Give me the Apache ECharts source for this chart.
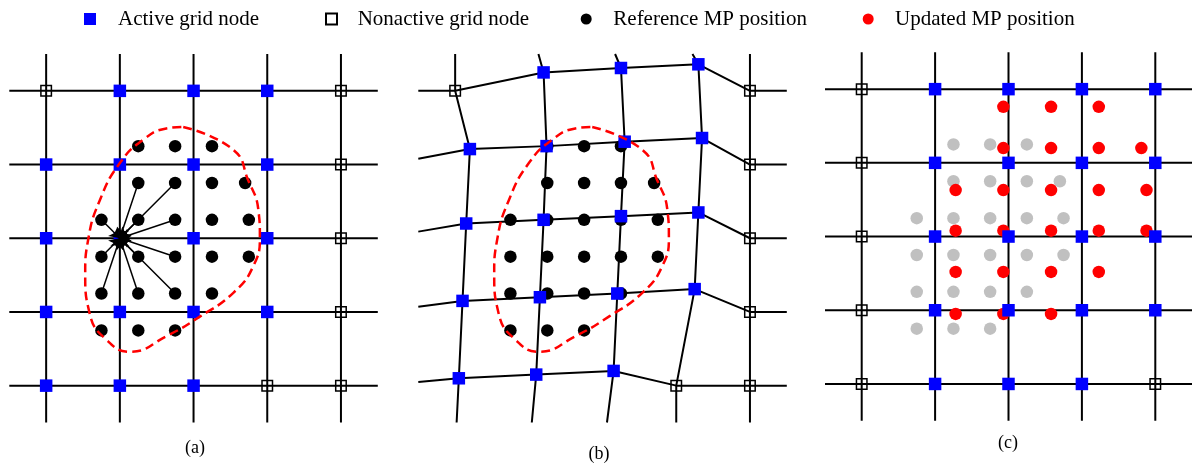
<!DOCTYPE html>
<html><head><meta charset="utf-8">
<script src="https://cdn.jsdelivr.net/npm/echarts@6/dist/echarts.min.js"></script>
<style>html,body{margin:0;padding:0;background:#fff}#c{width:1192px;height:466px}</style>
</head><body><div id="c"></div>
<script>
// ---------- data (grid units: node columns/rows 0..4, rows counted downward) ----------
const gridIndex = [0, 1, 2, 3, 4];
const lineExtent = [-0.5, 4.5];

// 1 = active grid node, 0 = nonactive grid node (rows top->bottom, cols left->right)
const activeA = [[0,1,1,1,0],[1,1,1,1,0],[1,1,1,1,0],[1,1,1,1,0],[1,1,1,0,0]];
const activeB = [[0,1,1,1,0],[1,1,1,1,0],[1,1,1,1,0],[1,1,1,1,0],[1,1,1,0,0]];
const activeC = [[0,1,1,1,1],[0,1,1,1,1],[0,1,1,1,1],[0,1,1,1,1],[0,1,1,1,0]];

// deformed grid node positions in (b): [x, y] per row
const nodesB = [
  [[0,0],[1.20,-0.25],[2.25,-0.31],[3.30,-0.36],[4,0]],
  [[0.20,0.79],[1.24,0.75],[2.30,0.69],[3.35,0.64],[4,1]],
  [[0.15,1.80],[1.20,1.75],[2.25,1.70],[3.30,1.65],[4,2]],
  [[0.10,2.85],[1.15,2.80],[2.20,2.75],[3.25,2.69],[4,3]],
  [[0.05,3.90],[1.10,3.85],[2.15,3.80],[3,4],[4,4]]
];
const rowLeftB  = [[-0.5,0],[-0.5,0.92],[-0.5,1.91],[-0.5,2.93],[-0.5,3.95]];
const rowRightB = [[4.5,0],[4.5,1],[4.5,2],[4.5,3],[4.5,4]];
const colTopB    = [[0,-0.5],[1.13,-0.5],[2.17,-0.5],[3.22,-0.5],[4,-0.5]];
const colBottomB = [[0.02,4.5],[1.04,4.5],[2.06,4.5],[3,4.5],[4,4.5]];

// reference material point positions
const refMP = [
  [1.25,0.75],[1.75,0.75],[2.25,0.75],
  [1.25,1.25],[1.75,1.25],[2.25,1.25],[2.70,1.25],
  [0.75,1.75],[1.25,1.75],[1.75,1.75],[2.25,1.75],[2.75,1.75],
  [0.75,2.25],[1.25,2.25],[1.75,2.25],[2.25,2.25],[2.75,2.25],
  [0.75,2.75],[1.25,2.75],[1.75,2.75],[2.25,2.75],
  [0.75,3.25],[1.25,3.25],[1.75,3.25]
];
// updated material point positions (c)
const updatedMP = [
  [1.93,0.24],[2.58,0.24],[3.23,0.24],
  [1.93,0.80],[2.58,0.80],[3.23,0.80],[3.81,0.80],
  [1.28,1.37],[1.93,1.37],[2.58,1.37],[3.23,1.37],[3.88,1.37],
  [1.28,1.92],[1.93,1.92],[2.58,1.92],[3.23,1.92],[3.88,1.92],
  [1.28,2.48],[1.93,2.48],[2.58,2.48],[3.23,2.48],
  [1.28,3.05],[1.93,3.05],[2.58,3.05]
];
// node receiving the mapping arrows in (a)
const targetNode = [1, 2];
// dashed domain boundary
const domainOutline = [
  [1.86,0.49],[2.54,0.80],[2.74,1.21],[2.88,1.62],[2.90,1.98],[2.81,2.38],
  [2.54,2.74],[2.09,3.06],[1.63,3.33],[1.14,3.54],[0.82,3.38],[0.59,3.02],
  [0.53,2.48],[0.57,2.02],[0.73,1.48],[1.00,0.98],[1.32,0.66],[1.63,0.51],[1.86,0.49]
];
const legendNames = ['Active grid node', 'Nonactive grid node', 'Reference MP position', 'Updated MP position'];
const captions = ['(a)', '(b)', '(c)'];

// ---------- build ----------
const FONT = 'Liberation Serif';
const panels = [{left: 9.3, top: 54}, {left: 418.3, top: 54}, {left: 825, top: 52.3}];
const SIZE = 368.5;

const grids = panels.map(p => ({left: p.left, top: p.top, width: SIZE, height: SIZE, containLabel: false}));
const xAxes = panels.map((p, i) => ({type: 'value', gridIndex: i, min: lineExtent[0], max: lineExtent[1], show: false}));
const yAxes = panels.map((p, i) => ({type: 'value', gridIndex: i, min: lineExtent[0], max: lineExtent[1], inverse: true, show: false}));

const series = [];
function addLine(panel, pts, z) {
  series.push({type: 'line', xAxisIndex: panel, yAxisIndex: panel, data: pts, symbol: 'none',
    lineStyle: {color: '#000', width: 2}, silent: true, clip: false, z: z || 1, animation: false});
}
function regularGrid(panel) {
  gridIndex.forEach(k => {
    addLine(panel, [[lineExtent[0], k], [lineExtent[1], k]]);
    addLine(panel, [[k, lineExtent[0]], [k, lineExtent[1]]]);
  });
}
function nodeSeries(panel, states, posFn) {
  const act = [], non = [];
  states.forEach((row, r) => row.forEach((s, c) => (s ? act : non).push(posFn(r, c))));
  series.push({type: 'scatter', name: legendNames[0], xAxisIndex: panel, yAxisIndex: panel, data: act,
    symbol: 'rect', symbolSize: 12.5, itemStyle: {color: '#0000ff', opacity: 1}, z: 4, clip: false, animation: false});
  series.push({type: 'scatter', name: legendNames[1], xAxisIndex: panel, yAxisIndex: panel, data: non,
    symbol: 'rect', symbolSize: 10.5, itemStyle: {color: 'rgba(255,255,255,0)', borderColor: '#000', borderWidth: 1.5, opacity: 1},
    z: 4, clip: false, animation: false});
}
function mpSeries(panel, name, data, color, z) {
  series.push({type: 'scatter', name: name, xAxisIndex: panel, yAxisIndex: panel, data: data,
    symbol: 'circle', symbolSize: 12.5, itemStyle: {color: color, opacity: 1}, z: z, clip: false, animation: false});
}
function outline(panel) {
  series.push({type: 'line', xAxisIndex: panel, yAxisIndex: panel, data: domainOutline, symbol: 'none', smooth: 0.5,
    lineStyle: {color: '#ff0000', width: 2.5, type: [9, 5]}, z: 6, clip: false, silent: true, animation: false});
}

// panel (a)
regularGrid(0);
mpSeries(0, legendNames[2], refMP, '#000', 2);
nodeSeries(0, activeA, (r, c) => [c, r]);
series.push({type: 'lines', coordinateSystem: 'cartesian2d', xAxisIndex: 0, yAxisIndex: 0,
  data: refMP.filter(p => Math.abs(p[0] - targetNode[0]) < 1 && Math.abs(p[1] - targetNode[1]) < 1)
             .map(p => ({coords: [p, targetNode]})),
  symbol: ['none', 'arrow'], symbolSize: 10, lineStyle: {color: '#000', width: 1.5, opacity: 1, curveness: 0},
  z: 5, silent: true, animation: false});
outline(0);

// panel (b)
gridIndex.forEach(r => addLine(1, [rowLeftB[r]].concat(nodesB[r], [rowRightB[r]])));
gridIndex.forEach(c => addLine(1, [colTopB[c]].concat(nodesB.map(row => row[c]), [colBottomB[c]])));
mpSeries(1, legendNames[2], refMP, '#000', 2);
nodeSeries(1, activeB, (r, c) => nodesB[r][c]);
outline(1);

// panel (c)
regularGrid(2);
mpSeries(2, 'Reference MP position (grey)', refMP, '#c0c0c0', 2);
mpSeries(2, legendNames[3], updatedMP, '#ff0000', 3);
nodeSeries(2, activeC, (r, c) => [c, r]);

// legends (one per item so each sits where it does in the figure)
const legendLeft = [84, 325, 580.7, 862.7];
const legendIcon = [12, 11, 11, 11];
const legendPad  = [17, 15.7, 16.6, 16.3];
const legends = legendNames.map((n, i) => ({
  data: [n], left: legendLeft[i], top: 8.5, padding: 0, selectedMode: false,
  itemWidth: legendIcon[i], itemHeight: legendIcon[i],
  textStyle: {fontFamily: FONT, fontSize: 21, color: '#000', padding: [0, 0, 0, legendPad[i]]}
}));

const captionLeft = [185, 588.5, 998];
const captionTop = [439, 445, 434];
const titles = captions.map((t, i) => ({text: t, left: captionLeft[i], top: captionTop[i], padding: 0,
  textStyle: {fontFamily: FONT, fontSize: 18, fontWeight: 'normal', color: '#000'}}));

const chart = echarts.init(document.getElementById('c'), null, {renderer: 'canvas'});
chart.setOption({
  backgroundColor: '#fff', animation: false,
  title: titles, legend: legends, grid: grids, xAxis: xAxes, yAxis: yAxes, series: series
});
</script></body></html>
